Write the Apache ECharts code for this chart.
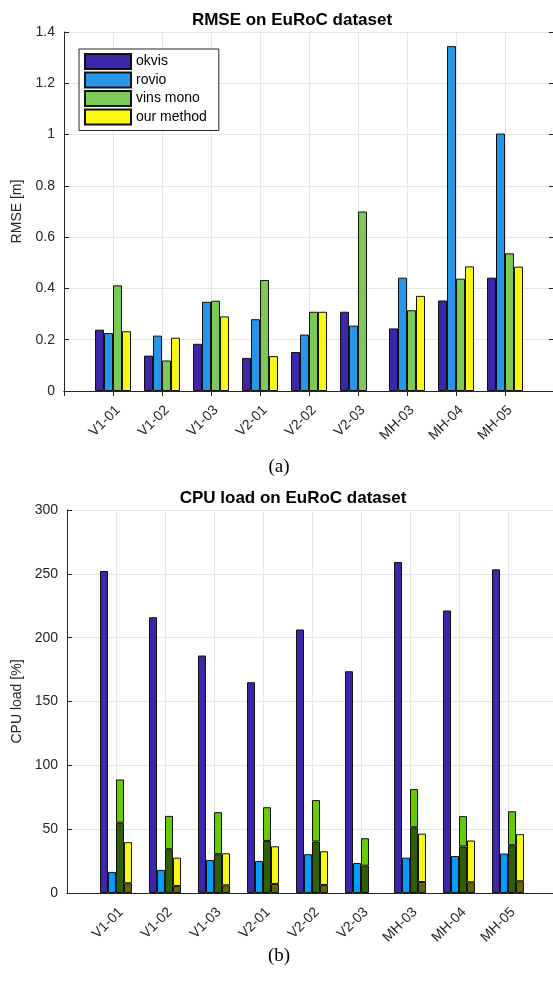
<!doctype html>
<html>
<head>
    <meta charset="utf-8">
    <title>EuRoC</title>
    <style>
    body{ margin:0; background:#fff; }
    #main{ width:553px; height:982px; }
    </style>
</head>
<body>
<div id="main"></div>
<script type="text/javascript" src="https://cdn.jsdelivr.net/npm/echarts@6/dist/echarts.min.js"></script>
<script type="text/javascript">
    // data
    var sequences = ['V1-01', 'V1-02', 'V1-03', 'V2-01', 'V2-02', 'V2-03', 'MH-03', 'MH-04', 'MH-05'];
    var methods = ['okvis', 'rovio', 'vins mono', 'our method'];

    // RMSE [m]
    var rmseOkvis = [0.239, 0.138, 0.184, 0.129, 0.152, 0.309, 0.244, 0.353, 0.442];
    var rmseRovio = [0.226, 0.216, 0.348, 0.280, 0.220, 0.255, 0.442, 1.345, 1.004];
    var rmseVins  = [0.412, 0.119, 0.352, 0.433, 0.309, 0.700, 0.315, 0.438, 0.537];
    var rmseOurs  = [0.233, 0.208, 0.291, 0.136, 0.309, null, 0.371, 0.486, 0.485];

    // CPU load [%]
    var cpuOkvis     = [252.2, 216.0, 186.0, 165.1, 206.4, 173.7, 259.3, 221.3, 253.5];
    var cpuRovio     = [16.5, 18.1, 25.9, 25.1, 30.4, 23.5, 27.7, 29.0, 30.9];
    var cpuVinsDark  = [55.0, 34.3, 30.4, 40.8, 40.3, 21.4, 51.5, 36.4, 37.4];
    var cpuVinsTotal = [88.9, 60.4, 63.3, 67.2, 72.8, 42.9, 81.4, 60.2, 64.0];
    var cpuOursDark  = [7.6, 5.5, 6.0, 7.1, 6.3, null, 8.6, 8.4, 9.2];
    var cpuOursTotal = [39.8, 27.7, 31.1, 36.6, 32.7, null, 46.5, 41.1, 46.1];

    var rmseTicks = { min: 0, max: 1.4, interval: 0.2 };
    var cpuTicks = { min: 0, max: 300, interval: 50 };

    // x axis runs 0..10 with the sequences at 1..9 (bottom plot is cut on the right)
    var cats = [''].concat(sequences, ['']);
    function pad(arr) {
        return ['-'].concat(arr.map(function (v) { return v === null ? '-' : v; }), ['-']);
    }
    function diff(top, bottom) {
        return top.map(function (v, i) { return v === null ? null : +(v - bottom[i]).toFixed(2); });
    }

    var axisColor = '#262626';
    var gridColor = '#e6e6e6';
    var font = 'Liberation Sans';
    var edge = { borderColor: '#111', borderWidth: 1 };

    function xAxisMain(gridIndex) {
        return {
            gridIndex: gridIndex,
            type: 'category',
            boundaryGap: false,
            data: cats,
            axisLine: { lineStyle: { color: axisColor, width: 1 } },
            axisTick: { show: true, inside: true, length: 5, interval: 0, lineStyle: { color: axisColor } },
            axisLabel: { interval: 0, rotate: 45, margin: 12, verticalAlign: 'top', fontSize: 14, fontFamily: font, color: axisColor },
            splitLine: { show: true, interval: 0, lineStyle: { color: gridColor, width: 1 } }
        };
    }
    function yAxisMain(gridIndex, t, name, gap) {
        return {
            gridIndex: gridIndex,
            type: 'value',
            min: t.min, max: t.max, interval: t.interval,
            name: name,
            nameLocation: 'middle',
            nameGap: gap,
            nameTextStyle: { fontSize: 14, fontFamily: font, color: axisColor },
            axisLine: { show: true, lineStyle: { color: axisColor, width: 1 } },
            axisTick: { show: true, inside: true, length: 5, lineStyle: { color: axisColor } },
            axisLabel: { fontSize: 14, fontFamily: font, color: axisColor, margin: 9 },
            splitLine: { show: true, lineStyle: { color: gridColor, width: 1 } }
        };
    }
    function bar(name, axis, width, color, data, stack) {
        var s = {
            name: name, type: 'bar', xAxisIndex: axis, yAxisIndex: axis === 0 ? 0 : 2,
            barWidth: width, barGap: '0%',
            itemStyle: Object.assign({ color: color }, edge),
            data: pad(data)
        };
        if (stack) s.stack = stack;
        return s;
    }

    var myChart = echarts.init(document.getElementById('main'), null, { renderer: 'canvas' });
    var option = {
        animation: false,
        backgroundColor: '#fff',
        textStyle: { fontFamily: font },
        grid: [
            { left: 64, top: 32, width: 490, height: 359, outerBoundsMode: 'none' },
            { left: 67, top: 510, width: 490, height: 383, outerBoundsMode: 'none' }
        ],
        graphic: [
            { type: 'text', x: 292, y: 20, style: { text: 'RMSE on EuRoC dataset', font: 'bold 17px "Liberation Sans"', fill: '#000', align: 'center', verticalAlign: 'middle' } },
            { type: 'text', x: 293, y: 498, style: { text: 'CPU load on EuRoC dataset', font: 'bold 17px "Liberation Sans"', fill: '#000', align: 'center', verticalAlign: 'middle' } },
            { type: 'text', x: 279, y: 467, style: { text: '(a)', font: '19px "Liberation Serif"', fill: '#000', align: 'center', verticalAlign: 'middle' } },
            { type: 'text', x: 279, y: 956, style: { text: '(b)', font: '19px "Liberation Serif"', fill: '#000', align: 'center', verticalAlign: 'middle' } }
        ],
        legend: {
            data: methods,
            orient: 'vertical',
            left: 79,
            top: 49,
            itemWidth: 46,
            itemHeight: 15,
            itemGap: 1.5,
            padding: [4, 12, 5, 5],
            borderColor: axisColor,
            borderWidth: 1,
            borderRadius: 0,
            backgroundColor: '#fff',
            selectedMode: false,
            icon: 'rect',
            textStyle: { fontSize: 14, fontFamily: font, color: '#000', lineHeight: 15 }
        },
        xAxis: [
            xAxisMain(0),
            {
                gridIndex: 0, type: 'category', boundaryGap: false, data: cats, position: 'top',
                axisLine: { lineStyle: { color: axisColor, width: 1 } },
                axisTick: { show: true, inside: true, length: 5, interval: 0, lineStyle: { color: axisColor } },
                axisLabel: { show: false },
                splitLine: { show: false }
            },
            xAxisMain(1)
        ],
        yAxis: [
            yAxisMain(0, rmseTicks, 'RMSE [m]', 34),
            {
                gridIndex: 0, type: 'value', position: 'right',
                min: rmseTicks.min, max: rmseTicks.max, interval: rmseTicks.interval,
                axisLine: { show: true, lineStyle: { color: axisColor, width: 1 } },
                axisTick: { show: true, inside: true, length: 5, lineStyle: { color: axisColor } },
                axisLabel: { show: false },
                splitLine: { show: false }
            },
            yAxisMain(1, cpuTicks, 'CPU load [%]', 33)
        ],
        series: [
            bar('okvis', 0, 9, '#3e26a8', rmseOkvis),
            bar('rovio', 0, 9, '#2896e8', rmseRovio),
            bar('vins mono', 0, 9, '#7ec956', rmseVins),
            bar('our method', 0, 9, '#f9f90f', rmseOurs),

            bar('okvis cpu', 2, 8, '#3e26a8', cpuOkvis),
            bar('rovio cpu', 2, 8, '#009cff', cpuRovio),
            bar('vins cpu low', 2, 8, '#2f5e05', cpuVinsDark, 'vins'),
            bar('vins cpu high', 2, 8, '#66cc00', diff(cpuVinsTotal, cpuVinsDark), 'vins'),
            bar('ours cpu low', 2, 8, '#666600', cpuOursDark, 'ours'),
            bar('ours cpu high', 2, 8, '#f9f90f', diff(cpuOursTotal, cpuOursDark), 'ours')
        ]
    };
    myChart.setOption(option);
</script>
</body>
</html>
